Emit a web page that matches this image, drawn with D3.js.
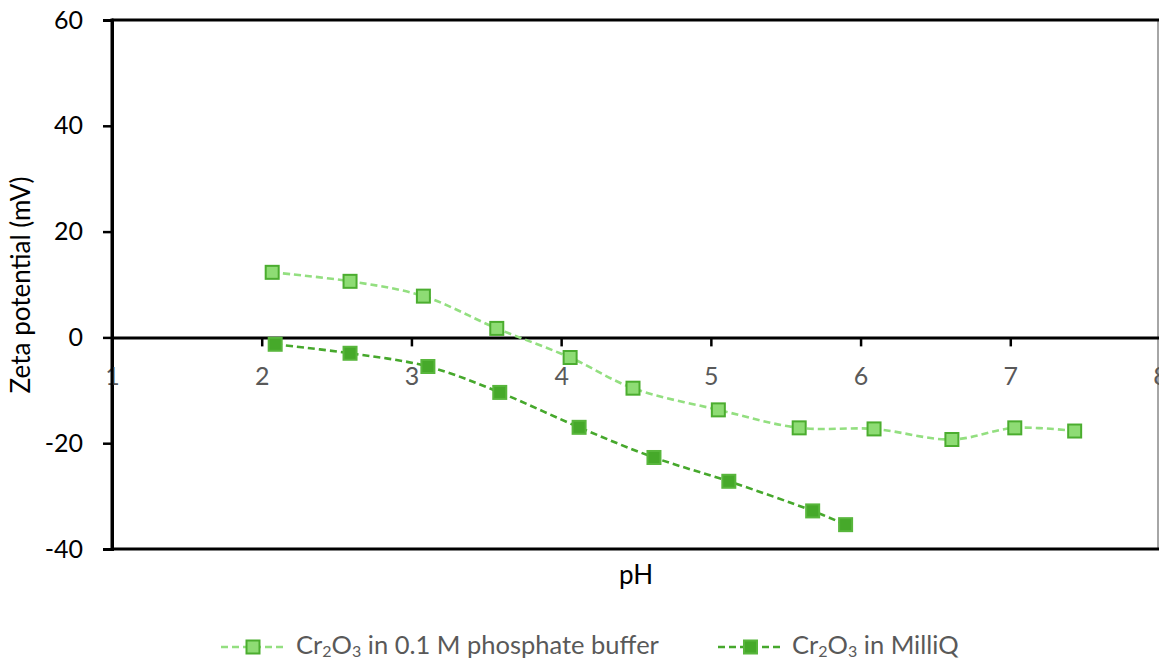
<!DOCTYPE html>
<html>
<head>
<meta charset="utf-8">
<script src="https://cdn.jsdelivr.net/npm/d3@7"></script>
<style>
  html, body { margin: 0; padding: 0; background: #fff; }
  svg { display: block; font-family: Lato, "Open Sans", sans-serif; }
</style>
</head>
<body>
<svg id="chart" width="1159" height="661"></svg>
<script>
// pH values and zeta potentials (mV)
const bufferPH   = [2.07, 2.59, 3.08, 3.57, 4.06, 4.48, 5.05, 5.59, 6.09, 6.61, 7.03, 7.43];
const bufferZeta = [12.3, 10.6, 7.8, 1.7, -3.8, -9.6, -13.7, -17.1, -17.3, -19.3, -17.1, -17.7];
const milliqPH   = [2.09, 2.59, 3.11, 3.59, 4.12, 4.62, 5.12, 5.68, 5.90];
const milliqZeta = [-1.3, -3.0, -5.5, -10.4, -17.0, -22.7, -27.2, -32.8, -35.4];
const xTicks = [1, 2, 3, 4, 5, 6, 7, 8];
const yTicks = [-40, -20, 0, 20, 40, 60];

const series = [
  { name: "phosphate", x: bufferPH, y: bufferZeta, line: "#93df80", fill: "#8edc74", stroke: "#4bad2f",
    label: ["Cr", "2", "O", "3", " in 0.1 M phosphate buffer"] },
  { name: "milliq", x: milliqPH, y: milliqZeta, line: "#46a82c", fill: "#46a92a", stroke: "#58b63c",
    label: ["Cr", "2", "O", "3", " in MilliQ"] }
];

const svg = d3.select("#chart");
const plotLeft = 112, plotRight = 1160, plotTop = 20, plotBottom = 549;
const tickFont = "25px";

const x = d3.scaleLinear().domain([1, 8]).range([plotLeft, plotRight]);
const y = d3.scaleLinear().domain([-40, 60]).range([plotBottom, plotTop]);

// plot frame
svg.append("line").attr("x1", 1158).attr("x2", 1158).attr("y1", plotTop).attr("y2", plotBottom)
  .attr("stroke", "#888").attr("stroke-width", 1.5);
svg.append("line").attr("x1", plotLeft).attr("x2", 1159).attr("y1", plotTop).attr("y2", plotTop)
  .attr("stroke", "#000").attr("stroke-width", 3);
svg.append("line").attr("x1", plotLeft).attr("x2", 1159).attr("y1", plotBottom).attr("y2", plotBottom)
  .attr("stroke", "#000").attr("stroke-width", 3);

// y axis
const yAxis = svg.append("g").attr("transform", `translate(${plotLeft},0)`)
  .call(d3.axisLeft(y).tickValues(yTicks).tickSize(9).tickPadding(20).tickFormat(d => String(d)));
yAxis.select(".domain").attr("stroke", "#000").attr("stroke-width", 3);
yAxis.selectAll(".tick line").attr("stroke", "#000").attr("stroke-width", 2.5);
yAxis.selectAll(".tick text").attr("fill", "#000").style("font-size", tickFont)
  .style("font-family", "Lato, sans-serif");

// x axis along zero
const xAxis = svg.append("g").attr("transform", `translate(0,${y(0)})`)
  .call(d3.axisBottom(x).tickValues(xTicks).tickSize(9).tickPadding(21).tickFormat(d => String(d)));
xAxis.select(".domain").attr("stroke", "#000").attr("stroke-width", 3);
xAxis.selectAll(".tick line").attr("stroke", "#000").attr("stroke-width", 2.5);
xAxis.selectAll(".tick text").attr("fill", "#595959").style("font-size", tickFont)
  .style("font-family", "Lato, sans-serif");
// redraw left axis line over the "1" label
svg.append("line").attr("x1", plotLeft).attr("x2", plotLeft).attr("y1", plotTop - 1.5).attr("y2", plotBottom + 1.5)
  .attr("stroke", "#000").attr("stroke-width", 3);

// axis titles
svg.append("text").attr("transform", "translate(30,285) rotate(-90)")
  .attr("text-anchor", "middle").style("font-size", "26px").attr("fill", "#000")
  .text("Zeta potential (mV)");
svg.append("text").attr("x", 636).attr("y", 584)
  .attr("text-anchor", "middle").style("font-size", "26px").attr("fill", "#000")
  .text("pH");

// series
const line = d3.line().curve(d3.curveCatmullRom.alpha(0.5));
const ms = 13;
series.forEach(s => {
  const pts = s.x.map((v, i) => [x(v), y(s.y[i])]);
  svg.append("path").attr("d", line(pts)).attr("fill", "none")
    .attr("stroke", s.line).attr("stroke-width", 2.6).attr("stroke-dasharray", "7,4");
  svg.append("g").selectAll("rect").data(pts).join("rect")
    .attr("x", d => d[0] - ms / 2).attr("y", d => d[1] - ms / 2)
    .attr("width", ms).attr("height", ms)
    .attr("fill", s.fill).attr("stroke", s.stroke).attr("stroke-width", 2);
});

// legend
const legendY = 647;
const legendPos = [{ x1: 221, x2: 285, text: 296 }, { x1: 718, x2: 783, text: 792 }];
series.forEach((s, i) => {
  const p = legendPos[i];
  const g = svg.append("g");
  g.append("line").attr("x1", p.x1).attr("x2", p.x2).attr("y1", legendY).attr("y2", legendY)
    .attr("stroke", s.line).attr("stroke-width", 2.6).attr("stroke-dasharray", "7,4");
  const mx = (p.x1 + p.x2) / 2;
  g.append("rect").attr("x", mx - ms / 2).attr("y", legendY - ms / 2).attr("width", ms).attr("height", ms)
    .attr("fill", s.fill).attr("stroke", s.stroke).attr("stroke-width", 2);
  const t = g.append("text").attr("x", p.text).attr("y", legendY + 7)
    .attr("fill", "#595959").style("font-size", "25.5px");
  s.label.forEach((part, j) => {
    const sub = j === 1 || j === 3;
    t.append("tspan").text(part)
      .style("font-size", sub ? "16px" : "25.5px")
      .attr("dy", sub ? 3 : (j === 0 ? 0 : -3));
  });
});
</script>
</body>
</html>
